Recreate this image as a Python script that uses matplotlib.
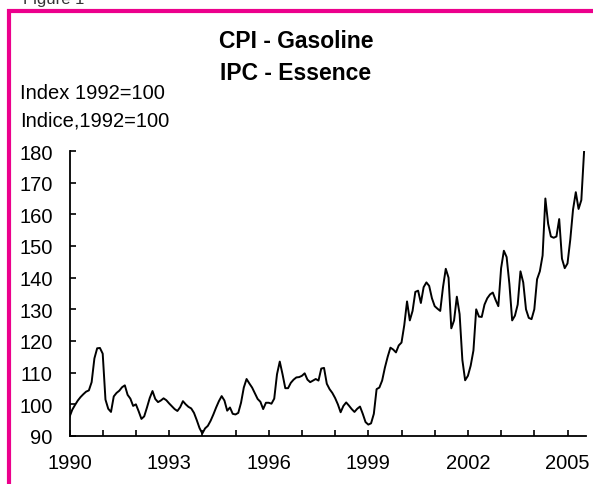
import numpy as np
import matplotlib
matplotlib.use("Agg")
import matplotlib.pyplot as plt
from matplotlib.lines import Line2D

# ---- data (monthly CPI gasoline, 1992=100), Jan 1990 onward ----
start_year = 1990
cpi_1990 = [96, 98.3, 99.8, 101.2, 102.3, 103.2, 104, 104.4, 107, 114.5, 117.7, 117.8]
cpi_1991 = [116, 101.5, 98.6, 97.6, 102.5, 103.6, 104.3, 105.4, 106, 103, 101.8, 99.5]
cpi_1992 = [100, 97.8, 95.4, 96.2, 99, 102, 104.2, 101.7, 100.7, 101.2, 101.9, 101.3]
cpi_1993 = [100.3, 99.4, 98.5, 97.9, 99.1, 101, 100, 99.2, 98.7, 97.3, 95, 92.5]
cpi_1994 = [90.8, 92.4, 93.2, 94.8, 96.8, 99, 101, 102.6, 101.2, 98, 99, 97]
cpi_1995 = [96.8, 97.3, 100.5, 105.3, 108, 106.6, 105.3, 103.5, 101.7, 100.8, 98.5, 100.5]
cpi_1996 = [100.5, 100.2, 101.8, 109.5, 113.5, 109.5, 105.1, 105.1, 106.8, 107.8, 108.5, 108.6]
cpi_1997 = [109, 109.8, 107.8, 107, 107.5, 108, 107.5, 111.3, 111.5, 106.5, 104.8, 103.6]
cpi_1998 = [102, 100, 97.5, 99.5, 100.6, 99.6, 98.5, 97.6, 98.6, 99.3, 97, 94.4]
cpi_1999 = [93.6, 94, 97, 104.8, 105.3, 107.5, 111.6, 115, 117.9, 117.3, 116.4, 118.6]
cpi_2000 = [119.5, 125, 132.5, 126.5, 129.5, 135.5, 135.9, 132, 137, 138.5, 137.4, 133.5]
cpi_2001 = [131, 130.2, 129.5, 137, 142.8, 140, 124, 126.5, 134, 128.5, 114, 107.6]
cpi_2002 = [109, 112.2, 117, 130, 127.7, 127.6, 131.5, 133.5, 134.7, 135.3, 133, 131]
cpi_2003 = [143, 148.5, 146.5, 138, 126.5, 128, 131.5, 142, 138.5, 130, 127.3, 126.9]
cpi_2004 = [130, 139.5, 142, 147, 165, 157, 153, 152.6, 153, 158.5, 146, 143]
cpi_2005 = [144.5, 152, 161.5, 167, 161.7, 164.5, 180]

year_ticks = list(range(1990, 2006))
year_labels = ["1990", "", "", "1993", "", "", "1996", "", "", "1999", "", "",
               "2002", "", "", "2005"]
y_ticks = [90, 100, 110, 120, 130, 140, 150, 160, 170, 180]

values = (cpi_1990 + cpi_1991 + cpi_1992 + cpi_1993 + cpi_1994 + cpi_1995 +
          cpi_1996 + cpi_1997 + cpi_1998 + cpi_1999 + cpi_2000 + cpi_2001 +
          cpi_2002 + cpi_2003 + cpi_2004 + cpi_2005)
t = start_year + np.arange(len(values)) / 12.0

plt.rcParams['font.family'] = ['Liberation Sans', 'DejaVu Sans']

W, H = 593, 485
fig = plt.figure(figsize=(W / 100, H / 100), dpi=100)

ax = fig.add_axes([69.5 / W, 1 - 437 / H, (586 - 69.5) / W, (437 - 152) / H])
ax.plot(t, values, color='black', lw=1.4, solid_joinstyle='round')
ax.set_xlim(1990, 1990 + (586 - 69.5) / 33.2)
ax.set_ylim(90, 180)
ax.set_xticks(year_ticks)
ax.set_xticklabels(year_labels)
ax.set_yticks(y_ticks)
for s in ['top', 'right']:
    ax.spines[s].set_visible(False)
for s in ['left', 'bottom']:
    ax.spines[s].set_linewidth(1.3)
ax.tick_params(axis='both', direction='in', length=4.5, width=1.2,
               labelsize=14.5, colors='black')
ax.tick_params(axis='x', pad=12)
ax.tick_params(axis='y', pad=12)

# titles and axis labels
fig.text(296 / W, 1 - 47.7 / H, "CPI - Gasoline", ha='center', va='baseline',
         fontsize=16.5, fontweight='bold')
fig.text(296 / W, 1 - 80 / H, "IPC - Essence", ha='center', va='baseline',
         fontsize=16.5, fontweight='bold')
fig.text(20.5 / W, 1 - 99 / H, "Index 1992=100", ha='left', va='baseline', fontsize=14.5)
fig.text(20.5 / W, 1 - 126.7 / H, "Indice,1992=100", ha='left', va='baseline', fontsize=14.5)
fig.text(23 / W, 1 - 4 / H, "Figure 1", ha='left', va='baseline', fontsize=12, color='#333333')

# magenta frame (top and left)
mag = '#EC008C'
fig.add_artist(Line2D([7 / W, 1.0], [1 - 12 / H, 1 - 12 / H], color=mag, lw=3.0,
                      transform=fig.transFigure, solid_capstyle='butt'))
fig.add_artist(Line2D([9 / W, 9 / W], [1 - 10 / H, 0], color=mag, lw=3.0,
                      transform=fig.transFigure, solid_capstyle='butt'))

fig.savefig("out.png", dpi=100)
